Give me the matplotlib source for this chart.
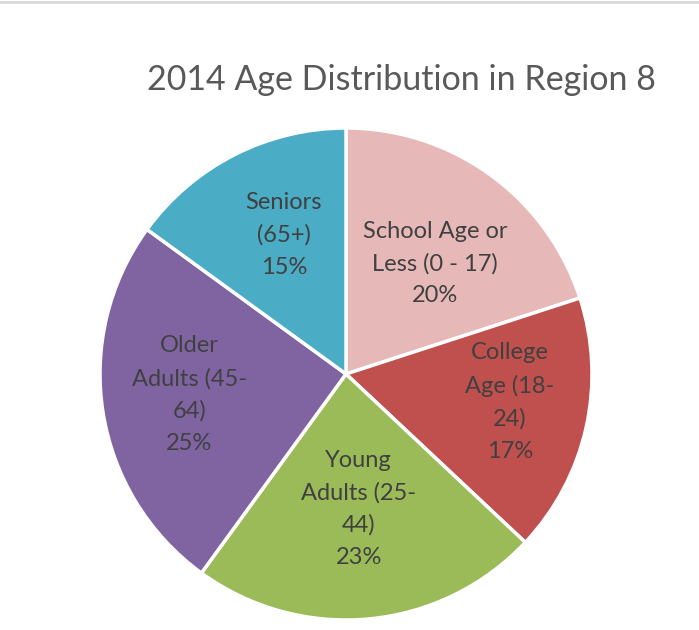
import matplotlib
matplotlib.use("Agg")
import matplotlib.pyplot as plt
import numpy as np

plt.rcParams['font.family'] = ['Lato', 'DejaVu Sans']

labels = ['School Age or\nLess (0 - 17)', 'College\nAge (18-\n24)', 'Young\nAdults (25-\n44)',
          'Older\nAdults (45-\n64)', 'Seniors\n(65+)']
shares = [20, 17, 23, 25, 15]
colors = ['#E6B9B8', '#C0504D', '#9BBB59', '#8064A2', '#4BACC6']
label_dist = [0.58, 0.67, 0.55, 0.64, 0.62]
# small nudges of the labels, in pixels (x right, y up)
nudge = [(5, -5), (3, 8), (0, 0), (-1, 4), (7, 3)]

W, H = 699, 630
fig = plt.figure(figsize=(W / 100, H / 100), dpi=100)

cx, cy, r = 346, 374, 246
ax = fig.add_axes([(cx - r) / W, (H - cy - r) / H, 2 * r / W, 2 * r / H])
wedges, _ = ax.pie(shares, colors=colors, startangle=90, counterclock=False,
                   wedgeprops=dict(edgecolor='white', linewidth=2.5))
ax.set_xlim(-1, 1)
ax.set_ylim(-1, 1)
ax.axis('off')

for w, lab, v, d, (nx, ny) in zip(wedges, labels, shares, label_dist, nudge):
    ang = np.deg2rad((w.theta1 + w.theta2) / 2)
    ax.annotate(f'{lab}\n{v}%', xy=(d * np.cos(ang), d * np.sin(ang)),
                xytext=(nx * 0.72, ny * 0.72), textcoords='offset points',
                ha='center', va='center', fontsize=17, color='#404040', linespacing=1.64)

fig.text(401 / W, 1 - 80 / H, '2014 Age Distribution in Region 8', ha='center', va='center',
         fontsize=24.5, color='#595959')

# thin grey frame line at the top
fig.add_artist(plt.Line2D([0, 1], [1 - 1.5 / H, 1 - 1.5 / H], color='#d9d9d9', lw=2))

fig.savefig('out.png', dpi=100)
